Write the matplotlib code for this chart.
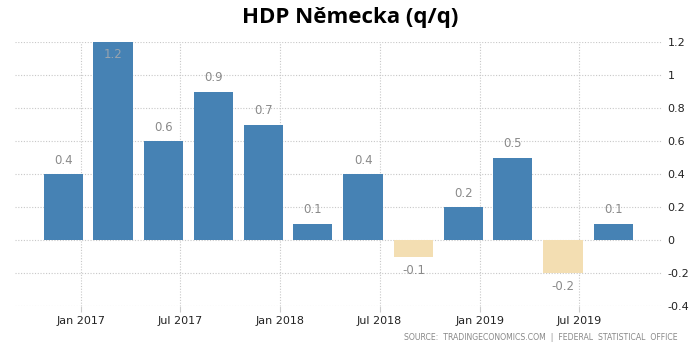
import matplotlib
matplotlib.use("Agg")
import matplotlib.pyplot as plt
import matplotlib.dates as mdates
import numpy as np
from datetime import datetime, timedelta

# Data
quarters = ["2016-12-01", "2017-03-01", "2017-06-01", "2017-09-01", "2017-12-01", "2018-03-01",
            "2018-06-01", "2018-09-01", "2018-12-01", "2019-03-01", "2019-06-01", "2019-09-01"]
values = [0.4, 1.2, 0.6, 0.9, 0.7, 0.1, 0.4, -0.1, 0.2, 0.5, -0.2, 0.1]
tick_dates = ["2017-01-01", "2017-07-01", "2018-01-01", "2018-07-01", "2019-01-01", "2019-07-01"]
tick_labels = ["Jan 2017", "Jul 2017", "Jan 2018", "Jul 2018", "Jan 2019", "Jul 2019"]
y_ticks = [-0.4, -0.2, 0, 0.2, 0.4, 0.6, 0.8, 1, 1.2]
y_labels = ["-0.4", "-0.2", "0", "0.2", "0.4", "0.6", "0.8", "1", "1.2"]
title = "HDP Německa (q/q)"
source = "SOURCE:  TRADINGECONOMICS.COM  |  FEDERAL  STATISTICAL  OFFICE"

pos_color = "#4682B4"
neg_color = "#F3DEB2"

plt.rcParams['font.family'] = ['DejaVu Sans']

fig = plt.figure(figsize=(7, 3.49), dpi=100)
ax = fig.add_axes([15/700, 1-306/349, (662-15)/700, (306-42)/349])

x = [mdates.date2num(datetime.strptime(d, "%Y-%m-%d")) for d in quarters]
colors = [pos_color if v >= 0 else neg_color for v in values]
ax.bar(x, values, width=72, color=colors, zorder=3)

for xi, v in zip(x, values):
    if v >= 1.15:
        ax.annotate(f"{v:g}", (xi, v), xytext=(0, -9), textcoords="offset points",
                    ha="center", va="center", fontsize=8.5, color="#9aa4ae", zorder=4)
    elif v >= 0:
        ax.annotate(f"{v:g}", (xi, v), xytext=(0, 10), textcoords="offset points",
                    ha="center", va="center", fontsize=8.5, color="#8a8a8a", zorder=4)
    else:
        ax.annotate(f"{v:g}", (xi, v), xytext=(0, -10), textcoords="offset points",
                    ha="center", va="center", fontsize=8.5, color="#8a8a8a", zorder=4)

ax.set_ylim(-0.4, 1.2)
ax.set_xlim(mdates.date2num(datetime(2016, 9, 3)), mdates.date2num(datetime(2019, 11, 29)))

ax.yaxis.tick_right()
ax.set_yticks(y_ticks)
ax.set_yticklabels(y_labels, fontsize=8, color="#222222")
ax.tick_params(axis='y', length=0, pad=4)

xt = [mdates.date2num(datetime.strptime(d, "%Y-%m-%d")) for d in tick_dates]
ax.set_xticks(xt)
ax.set_xticklabels(tick_labels, fontsize=8, color="#222222")
ax.tick_params(axis='x', length=4, color="#cccccc", pad=3, direction="out")

ax.grid(True, which='major', linestyle=(0, (1, 1.5)), color="#c8c8c8", linewidth=0.8, zorder=0)
for s in ax.spines.values():
    s.set_visible(False)

fig.text(350/700, 1-18/349, title, ha="center", va="center", fontsize=16,
         fontweight="bold", family="Open Sans", color="#000000")
fig.text(678/700, 1-338/349, source, ha="right", va="center", fontsize=5.6,
         color="#888888")

fig.savefig("out.png", dpi=100)
